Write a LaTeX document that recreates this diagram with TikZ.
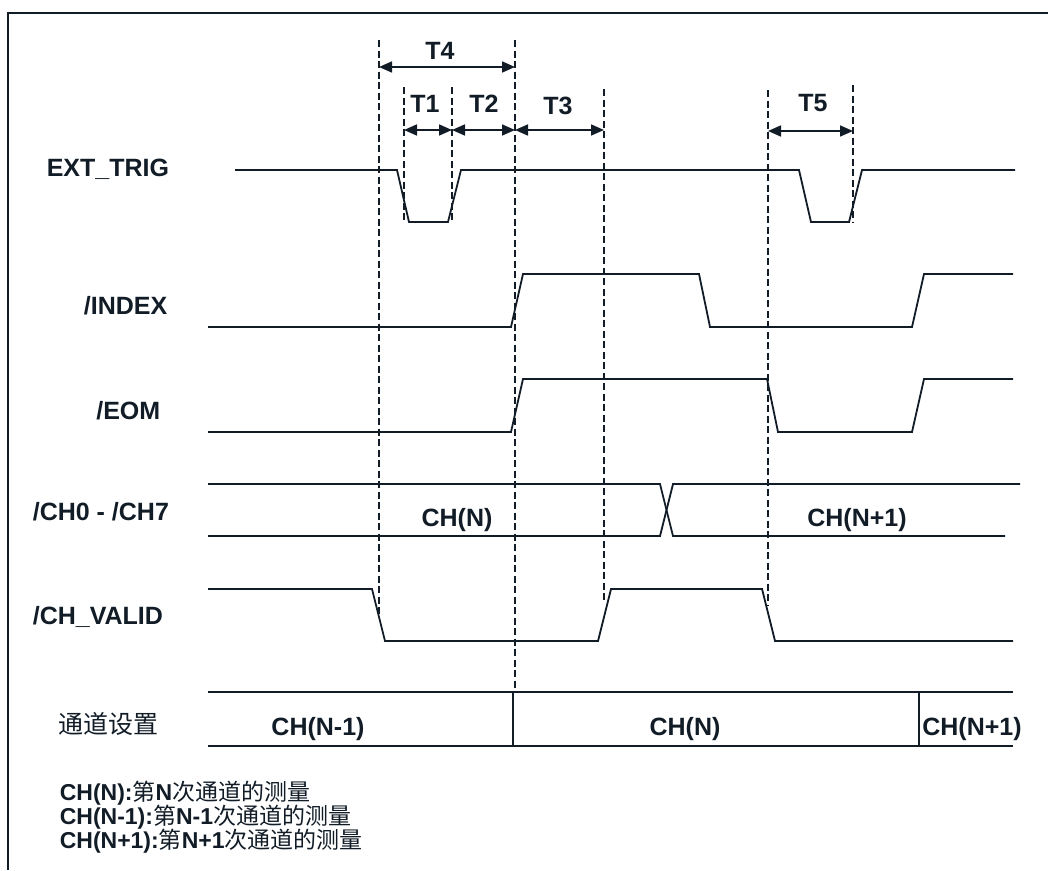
\documentclass[tikz,border=0pt]{standalone}
\usepackage{fontspec}
\setmainfont{Liberation Sans}
\newfontfamily\cjk{Noto Sans CJK SC}
\usetikzlibrary{arrows.meta, positioning}
\definecolor{cink}{HTML}{111C27}
\newcommand\legfont{\fontsize{23}{24}\selectfont\lineskiplimit=-20pt\relax}
\tikzset{
  every picture/.style={line width=1.6pt, color=cink},
  wave/.style={draw=cink, line width=1.8pt, line join=miter},
  marker/.style={draw=cink, line width=1.7pt, dash pattern=on 7pt off 3.5pt},
  span/.style={{Triangle[length=13pt, width=11pt]}-{Triangle[length=13pt, width=11pt]}, draw=cink, line width=1.7pt},
  sig/.style={font=\fontsize{25}{28}\selectfont\bfseries, text=cink, inner sep=0pt},
  cn/.style={font=\fontsize{25}{28}\selectfont\cjk, text=cink, inner sep=0pt},
}

\begin{document}
\begin{tikzpicture}[x=1pt, y=-1pt,
  tlabel/.style={sig},
  legend/.style={font=\legfont, text=cink, inner sep=0pt, align=left, anchor=base west}]
  \useasboundingbox (0,0) rectangle (1048,870);
  \draw[line width=2pt] (8,870) -- (8,13) -- (1048,13);
  % ---- signal names ----
  \node[sig, anchor=west] (nTrig) at (46,169) {EXT\_TRIG};
  \node[sig, anchor=east] (nIndex) at (168,306) {/INDEX};
  \node[sig, anchor=east] (nEom) at (161,411) {/EOM};
  \node[sig, anchor=west] (nCh) at (32,512) {/CH0 - /CH7};
  \node[sig, anchor=west] (nValid) at (32,617) {/CH\_VALID};
  \node[cn, anchor=west] (nSet) at (58,724) {通道设置};
  % ---- waveforms ----
  \draw[wave] (235,170) -- (397,170) -- (409,222) -- (448,222) -- (461,170) -- (799,170)
    -- (811,222) -- (849,222) -- (862,170) -- (1015,170);
  \draw[wave] (208,327) -- (511,327) -- (523,274) -- (699,274) -- (710,327) -- (912,327)
    -- (924,274) -- (1013,274);
  \draw[wave] (208,432) -- (511,432) -- (523,379) -- (767,379) -- (778,432) -- (912,432)
    -- (924,379) -- (1013,379);
  \draw[wave] (208,484) -- (660,484) -- (673,536) -- (1005,536);
  \draw[wave] (208,536) -- (660,536) -- (673,484) -- (1020,484);
  \draw[wave] (208,589) -- (372,589) -- (385,641) -- (598,641) -- (611,589) -- (762,589)
    -- (775,641) -- (1013,641);
  \draw[wave] (208,692) -- (1013,692);
  \draw[wave] (208,746) -- (1013,746);
  \draw[wave] (513,692) -- (513,746);
  \draw[wave] (919,692) -- (919,746);
  \node[sig] (busA) at (457,520) {CH(N)};
  \node[sig] (busB) at (857,520) {CH(N+1)};
  \node[sig] (setA) at (318,729) {CH(N-1)};
  \node[sig] (setB) at (685,729) {CH(N)};
  \node[sig] (setC) at (972,729) {CH(N+1)};
  % ---- timing markers ----
  \foreach \n/\x/\ya/\yb in {1/379/40/615, 2/404/87/220, 3/452/87/220, 4/515/40/692,
      5/604/89/603, 6/768/90/605, 7/853/85/222} {
    \coordinate (m\n) at (\x,\ya);
    \coordinate (e\n) at (\x,\yb);
    \draw[marker] (m\n) -- (e\n);
  }
  \foreach \a/\b/\y/\t/\lx/\ly in {1/4/67/T4/440/51, 2/3/130/T1/425/104, 3/4/130/T2/484/104,
      4/5/130/T3/558/106, 6/7/131/T5/813/103} {
    \draw[span] (m\a |- 0,\y) -- (m\b |- 0,\y);
    \node[tlabel] (l\t) at (\lx,\ly) {\t};
  }
  % ---- legend ----
  \node[legend] (leg) at (59,848) {\textbf{CH(N):}{\cjk 第}\textbf{N}{\cjk 次通道的测量}\\
    \textbf{CH(N-1):}{\cjk 第}\textbf{N-1}{\cjk 次通道的测量}\\
    \textbf{CH(N+1):}{\cjk 第}\textbf{N+1}{\cjk 次通道的测量}};
\end{tikzpicture}
\end{document}
